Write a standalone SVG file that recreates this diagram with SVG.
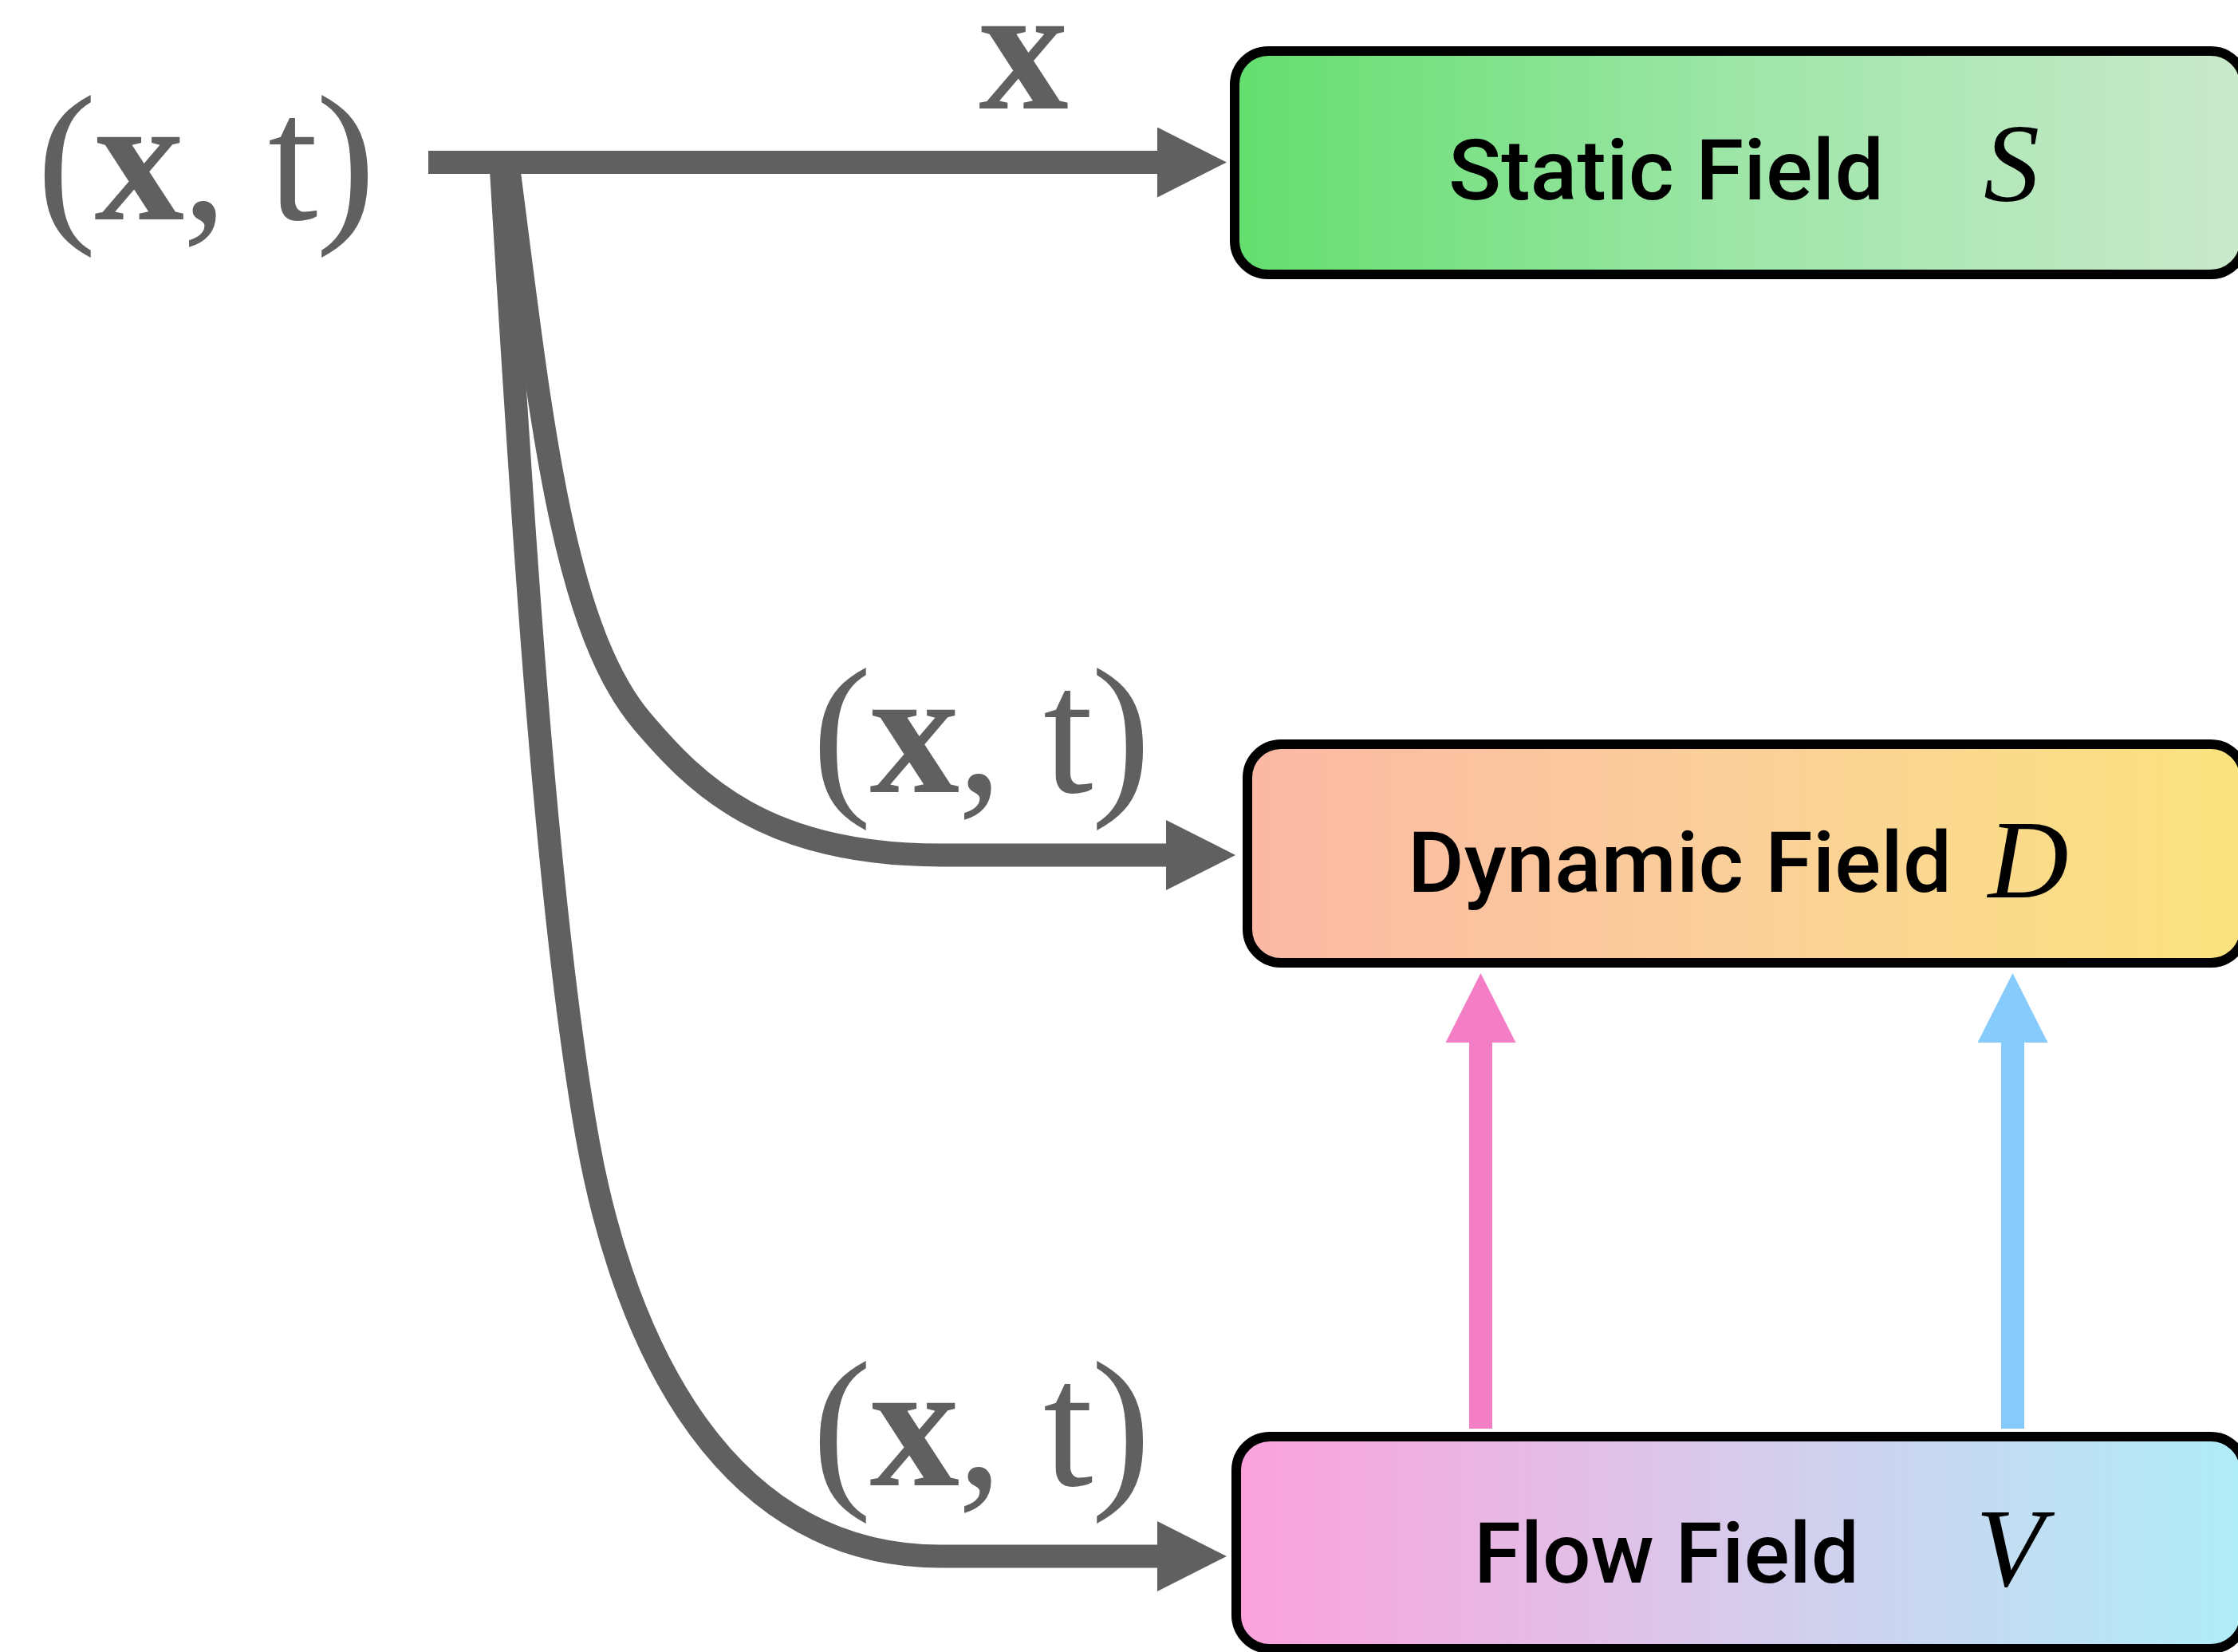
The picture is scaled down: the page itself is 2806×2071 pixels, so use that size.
<svg xmlns="http://www.w3.org/2000/svg" width="2806" height="2071" viewBox="0 0 2806 2071">
  <style>
    .lbl { font-family: "Liberation Serif", "Times New Roman", serif; font-size: 225px; fill: #606060; }
    .bx { font-weight: bold; }
    .box { stroke: #000; stroke-width: 12; }
    .name { font-family: Roboto, "Liberation Sans", Arial, sans-serif; font-weight: 500; font-size: 106px; fill: #000; }
    .sym { font-family: "Liberation Serif", "Times New Roman", serif; font-style: italic; font-size: 140px; fill: #000; text-anchor: middle; }
    .conn { fill: none; stroke: #606060; stroke-width: 29; }
  </style>
  <defs>
    <linearGradient id="gStatic" x1="0" y1="0" x2="1" y2="0">
      <stop offset="0" stop-color="#63de6e"/>
      <stop offset="0.5" stop-color="#9ee6a8"/>
      <stop offset="1" stop-color="#cae9cc"/>
    </linearGradient>
    <linearGradient id="gDynamic" x1="0" y1="0" x2="1" y2="0">
      <stop offset="0" stop-color="#fbb8a5"/>
      <stop offset="0.5" stop-color="#fbd099"/>
      <stop offset="1" stop-color="#fae37e"/>
    </linearGradient>
    <linearGradient id="gFlow" x1="0" y1="0" x2="1" y2="0">
      <stop offset="0" stop-color="#fca2dc"/>
      <stop offset="0.5" stop-color="#d7cbec"/>
      <stop offset="1" stop-color="#afedf8"/>
    </linearGradient>
    <marker id="ahGray" markerUnits="userSpaceOnUse" markerWidth="88" markerHeight="88" viewBox="0 0 88 88" refX="0" refY="44" orient="auto">
      <path d="M0,0 L87,44 L0,88 Z" fill="#606060"/>
    </marker>
    <marker id="ahPink" markerUnits="userSpaceOnUse" markerWidth="88" markerHeight="88" viewBox="0 0 88 88" refX="0" refY="44" orient="auto">
      <path d="M0,0 L87,44 L0,88 Z" fill="#f47ec5"/>
    </marker>
    <marker id="ahBlue" markerUnits="userSpaceOnUse" markerWidth="88" markerHeight="88" viewBox="0 0 88 88" refX="0" refY="44" orient="auto">
      <path d="M0,0 L87,44 L0,88 Z" fill="#87cbfd"/>
    </marker>
  </defs>

  <rect width="2806" height="2071" fill="#ffffff"/>

  <g id="input">
    <text class="lbl" x="46" y="275" textLength="425" lengthAdjust="spacing">(<tspan class="bx">x</tspan>, t)</text>
  </g>

  <g id="connectors">
    <path class="conn" d="M 628 205 C 652 605, 683 1130, 737 1430 C 773 1630, 880 1951, 1180 1951 L 1451 1951" marker-end="url(#ahGray)"/>
    <path class="conn" d="M 637 205 C 676 505, 703 784, 805 904 C 873 984, 960 1072, 1180 1072 L 1462 1072" marker-end="url(#ahGray)"/>
    <path class="conn" d="M 537 203.5 L 1451 203.5" marker-end="url(#ahGray)"/>
    <path fill="none" stroke="#f47ec5" stroke-width="29" d="M 1856.5 1791 L 1856.5 1307" marker-end="url(#ahPink)"/>
    <path fill="none" stroke="#87cbfd" stroke-width="29" d="M 2523.5 1791 L 2523.5 1307" marker-end="url(#ahBlue)"/>
    <text class="lbl bx" x="1283.5" y="136" text-anchor="middle">x</text>
    <text class="lbl" x="1018" y="993" textLength="425" lengthAdjust="spacing">(<tspan class="bx">x</tspan>, t)</text>
    <text class="lbl" x="1018" y="1862" textLength="425" lengthAdjust="spacing">(<tspan class="bx">x</tspan>, t)</text>
  </g>

  <g id="static-field">
    <rect class="box" x="1548" y="64" width="1266" height="280" rx="42" fill="url(#gStatic)"/>
    <text class="name" x="1816" y="250" textLength="546" lengthAdjust="spacingAndGlyphs">Static Field</text>
    <text class="sym" x="2522" y="252">S</text>
  </g>

  <g id="dynamic-field">
    <rect class="box" x="1564" y="933" width="1250" height="274" rx="42" fill="url(#gDynamic)"/>
    <text class="name" x="1765" y="1118" textLength="682" lengthAdjust="spacingAndGlyphs">Dynamic Field</text>
    <text class="sym" x="2543" y="1125">D</text>
  </g>

  <g id="flow-field">
    <rect class="box" x="1550" y="1801" width="1264" height="266" rx="42" fill="url(#gFlow)"/>
    <text class="name" x="1848" y="1984" textLength="483" lengthAdjust="spacingAndGlyphs">Flow Field</text>
    <text class="sym" x="2520" y="1988">V</text>
  </g>
</svg>
